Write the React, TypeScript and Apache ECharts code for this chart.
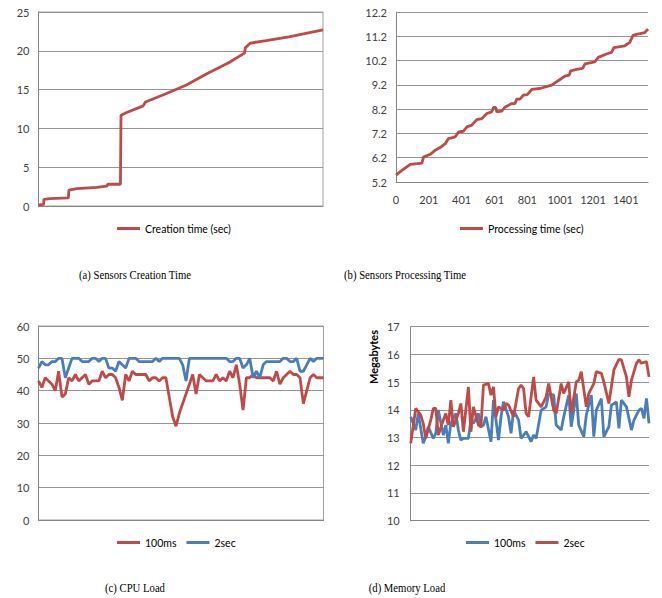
import React, { useEffect, useRef } from "react";
import * as echarts from "echarts";

const RED = "#BE4B48";
const BLUE = "#4A7EBB";
const GRID = "#959595";
const AXIS = "#868686";
const TXT = "#404040";
const FONT = "Lato";

// (a) creation time: [sample position 0..100, seconds]
const creationTime: [number, number][] = [
  [0, 0.1], [1.8, 0.2], [1.9, 0.85], [4, 0.95], [10.5, 1.05], [10.7, 2.05], [13.5, 2.25],
  [20.5, 2.4], [24, 2.55], [24.4, 2.8], [28.8, 2.8], [29, 11.7], [31, 12.05], [36.8, 12.9],
  [37.6, 13.4], [45, 14.5], [52, 15.6], [59, 17], [67, 18.5], [72.4, 19.7], [72.7, 20.4],
  [74.5, 21.0], [80, 21.3], [88, 21.8], [100, 22.7],
];

// (b) processing time: [sensor index, seconds]
const processingTime: [number, number][] = [
  [0, 5.48], [36, 5.68], [87, 5.93], [158, 5.98], [168, 6.23], [209, 6.34], [239, 6.51],
  [269, 6.62], [300, 6.78], [320, 6.99], [361, 7.06], [381, 7.26], [411, 7.29], [432, 7.47],
  [462, 7.54], [492, 7.77], [523, 7.81], [553, 8.02], [583, 8.09], [594, 8.27], [608, 8.27],
  [614, 8.09], [644, 8.12], [665, 8.29], [705, 8.43], [725, 8.43], [735, 8.61], [755, 8.61],
  [776, 8.78], [800, 8.8], [827, 9.01], [877, 9.05], [948, 9.19], [999, 9.42], [1029, 9.56],
  [1055, 9.6], [1064, 9.78], [1100, 9.84], [1137, 9.88], [1151, 10.06], [1211, 10.15],
  [1232, 10.33], [1282, 10.47], [1313, 10.54], [1327, 10.73], [1394, 10.81], [1424, 10.95],
  [1445, 11.25], [1515, 11.35], [1535, 11.5],
];
const processingTicks = [0, 200, 400, 600, 800, 1000, 1200, 1400];

// (c) CPU load (%)
const cpu100ms = [
  43, 41, 44, 43, 42, 40, 46, 38, 39, 44, 43, 45, 43, 44, 45, 42, 43, 43, 43, 46,
  44, 45, 45, 44, 41, 37, 45, 43, 46, 45, 45, 45, 45, 43, 44, 44, 43, 44, 44, 38,
  32, 29, 33, 36, 39, 42, 45, 39, 45, 44, 43, 43, 43, 45, 43, 44, 43, 46, 44, 48,
  42, 34, 44, 44, 45, 44, 44, 44, 44, 44, 43, 46, 42, 44, 45, 46, 45, 45, 44, 36,
  40, 44, 45, 44, 44, 44,
];
const cpu2sec = [
  47, 49, 48, 48, 49, 49, 50, 50, 44, 47, 50, 50, 50, 49, 49, 49, 50, 50, 49, 50,
  50, 47, 47, 46, 49, 48, 47, 50, 50, 50, 49, 49, 49, 49, 49, 50, 49, 50, 50, 50,
  50, 50, 50, 48, 43, 50, 50, 50, 50, 50, 50, 50, 50, 50, 50, 50, 50, 49, 49, 50,
  50, 47, 48, 50, 44, 46, 44, 48, 49, 49, 49, 49, 49, 50, 50, 49, 49, 50, 46, 46,
  48, 50, 49, 50, 50, 50,
];

// (d) memory load: [sample, megabytes]
const mem100ms: [number, number][] = [
  [0, 13.75], [2, 13.27], [3, 13.87], [5, 12.79], [6, 13.03], [7, 13.39], [9, 12.97],
  [10, 13.15], [11, 13.99], [13, 13.09], [14, 13.45], [15, 12.79], [16, 13.51], [18, 13.87],
  [19, 13.27], [20, 12.91], [21, 12.97], [23, 12.97], [24, 13.63], [25, 13.51], [27, 13.87],
  [28, 13.39], [29, 13.45], [30, 13.75], [32, 12.85], [33, 14.35], [35, 12.91], [36, 13.75],
  [37, 14.29], [39, 13.75], [40, 13.15], [41, 13.99], [43, 13.63], [44, 12.97], [46, 13.21],
  [48, 12.85], [49, 13.09], [50, 12.97], [52, 13.99], [54, 14.11], [55, 14.59], [57, 14.53],
  [58, 13.45], [60, 13.27], [61, 13.75], [63, 14.53], [64, 13.39], [66, 14.59], [67, 13.45],
  [69, 13.03], [70, 13.81], [72, 14.53], [73, 13.03], [74, 13.99], [76, 14.41], [77, 13.03],
  [79, 13.39], [80, 14.17], [82, 14.29], [83, 13.33], [84, 14.35], [86, 14.11], [88, 13.27],
  [89, 13.63], [91, 13.99], [92, 14.05], [93, 13.69], [94, 14.41], [95, 13.51],
];
const mem2sec: [number, number][] = [
  [0, 12.79], [2, 14.05], [4, 13.81], [5, 13.51], [6, 12.97], [8, 13.63], [9, 14.05],
  [10, 14.05], [11, 13.09], [13, 13.63], [14, 13.87], [15, 13.45], [16, 14.35], [17, 13.39],
  [19, 13.87], [20, 14.23], [21, 13.21], [23, 14.83], [24, 13.21], [25, 14.11], [27, 13.45],
  [28, 13.39], [29, 14.89], [31, 14.95], [32, 14.53], [33, 14.83], [34, 13.75], [35, 14.11],
  [37, 13.99], [38, 14.23], [39, 14.17], [41, 13.75], [43, 14.77], [44, 14.89], [45, 14.77],
  [46, 13.87], [47, 13.75], [49, 15.19], [50, 14.35], [52, 14.11], [54, 14.47], [55, 14.95],
  [57, 13.99], [58, 13.87], [60, 14.95], [61, 14.59], [63, 15.01], [64, 13.87], [66, 15.01],
  [67, 15.07], [68, 15.38], [70, 14.11], [71, 14.59], [73, 14.95], [74, 15.38], [76, 15.32],
  [77, 15.01], [79, 14.23], [81, 15.44], [83, 15.82], [84, 15.8], [86, 15.19], [87, 14.47],
  [88, 15.07], [90, 15.68], [91, 15.8], [92, 15.68], [94, 15.74], [95, 15.19],
];

const yLabel = { color: TXT, fontSize: 11, fontFamily: FONT, margin: 9 };
const splitLine = { show: true, lineStyle: { color: GRID, width: 1 } };
const axisLine = { show: true, lineStyle: { color: AXIS, width: 1 } };
const legendBase = {
  orient: "horizontal" as const,
  icon: "rect",
  itemWidth: 23,
  itemHeight: 3,
  itemGap: 10,
  padding: 0,
  textStyle: { color: "#000", fontSize: 10.5, fontFamily: FONT },
};
const caption = (text: string, x: number, y: number) => ({
  type: "text",
  x,
  y,
  scaleX: 0.93,
  style: {
    text,
    fill: "#000",
    font: '11.5px "Liberation Serif"',
    textAlign: "center",
    textVerticalAlign: "middle",
  },
});
const lineSeries = (name: string, data: any, color: string) => ({
  type: "line",
  name,
  data,
  symbol: "none",
  showSymbol: false,
  lineStyle: { color, width: 2.8 },
  itemStyle: { color },
});

const optA = {
  animation: false,
  grid: { left: 38.5, top: 12, width: 284.5, height: 194, show: true, borderColor: "#a0a0a0", borderWidth: 1 },
  xAxis: { type: "value", min: 0, max: 100, axisLabel: { show: false }, axisTick: { show: false }, splitLine: { show: false }, axisLine },
  yAxis: { type: "value", min: 0, max: 25, interval: 5, axisLabel: yLabel, axisTick: { show: false }, axisLine, splitLine },
  legend: { ...legendBase, left: 117, top: 223, data: ["Creation time (sec)"] },
  series: [lineSeries("Creation time (sec)", creationTime, RED)],
  graphic: [caption("(a) Sensors Creation Time", 135, 275)],
};

const optB = {
  animation: false,
  grid: { left: 65, top: 12, width: 252, height: 170 },
  xAxis: {
    type: "value", min: 0, max: 1535, interval: 200,
    axisLabel: {
      color: TXT, fontSize: 11, fontFamily: FONT, margin: 12, showMaxLabel: false,
      formatter: (v: number) => (processingTicks.indexOf(v) < 0 ? "" : v === 0 ? "0" : String(v + 1)),
    },
    axisTick: { show: false }, splitLine: { show: false }, axisLine,
  },
  yAxis: {
    type: "value", min: 5.2, max: 12.2, interval: 1,
    axisLabel: { ...yLabel, formatter: (v: number) => v.toFixed(1) },
    axisTick: { show: false }, axisLine, splitLine,
  },
  legend: { ...legendBase, left: 129, top: 223, data: ["Processing time (sec)"] },
  series: [lineSeries("Processing time (sec)", processingTime, RED)],
  graphic: [caption("(b) Sensors Processing Time", 74, 275)],
};

const cpuCats = cpu100ms.map((_, i) => String(i + 1));
const optC = {
  animation: false,
  grid: { left: 38.5, top: 27, width: 285, height: 194, show: true, borderColor: "#a0a0a0", borderWidth: 1 },
  xAxis: { type: "category", data: cpuCats, boundaryGap: false, axisLabel: { show: false }, axisTick: { show: false }, splitLine: { show: false }, axisLine },
  yAxis: { type: "value", min: 0, max: 60, interval: 10, axisLabel: yLabel, axisTick: { show: false }, axisLine, splitLine },
  legend: { ...legendBase, left: 117, top: 238, data: ["100ms", "2sec"] },
  series: [lineSeries("100ms", cpu100ms, RED), lineSeries("2sec", cpu2sec, BLUE)],
  graphic: [caption("(c) CPU Load", 135, 289)],
};

const optD = {
  animation: false,
  grid: { left: 79.7, top: 27.7, width: 238.3, height: 194 },
  xAxis: { type: "value", min: 0, max: 95, axisLabel: { show: false }, axisTick: { show: false }, splitLine: { show: false }, axisLine },
  yAxis: { type: "value", min: 10, max: 17, interval: 1, axisLabel: { ...yLabel, margin: 11 }, axisTick: { show: false }, axisLine, splitLine },
  legend: { ...legendBase, left: 135, top: 238, data: ["100ms", "2sec"] },
  series: [lineSeries("100ms", mem100ms, BLUE), lineSeries("2sec", mem2sec, RED)],
  graphic: [
    {
      type: "text", x: 42, y: 58, rotation: Math.PI / 2,
      style: { text: "Megabytes", fill: "#000", font: `bold 11px ${FONT}`, textAlign: "center", textVerticalAlign: "middle" },
    },
    caption("(d) Memory Load", 76, 289),
  ],
};

function Panel({ option, left, top }: { option: any; left: number; top: number }) {
  const ref = useRef<HTMLDivElement>(null);
  useEffect(() => {
    if (!ref.current) return;
    const chart = echarts.init(ref.current, undefined, { renderer: "svg" });
    chart.setOption(option);
    return () => chart.dispose();
  }, [option]);
  return <div ref={ref} style={{ position: "absolute", left, top, width: 331, height: 299 }} />;
}

export default function App() {
  return (
    <div style={{ position: "absolute", left: 0, top: 0, width: 662, height: 598, background: "#fff" }}>
      <Panel option={optA} left={0} top={0} />
      <Panel option={optB} left={331} top={0} />
      <Panel option={optC} left={0} top={299} />
      <Panel option={optD} left={331} top={299} />
    </div>
  );
}
